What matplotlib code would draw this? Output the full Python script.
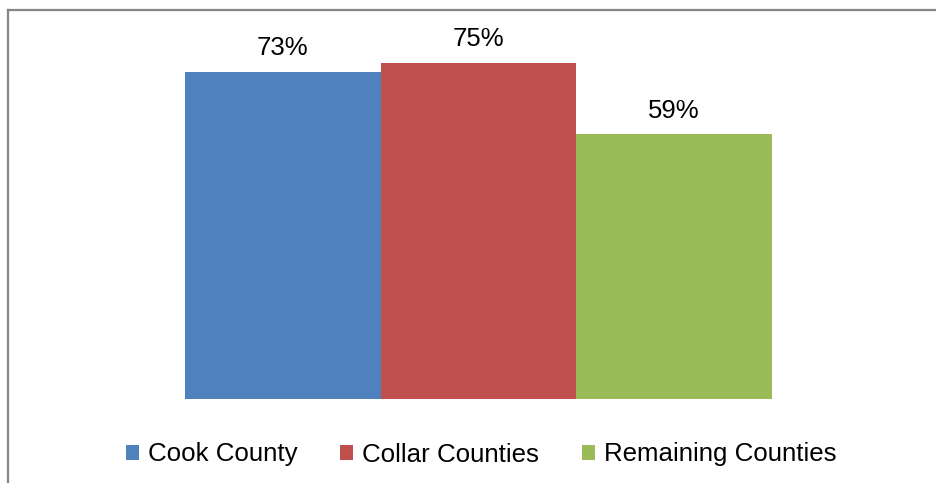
import matplotlib
matplotlib.use("Agg")
import matplotlib.pyplot as plt
from matplotlib.lines import Line2D
from matplotlib.patches import Patch

categories = ["Cook County", "Collar Counties", "Remaining Counties"]
values = [73, 75, 59]
labels = ["73%", "75%", "59%"]
colors = ["#4F81BD", "#C0504D", "#9BBB59"]

plt.rcParams['font.family'] = ['Liberation Sans', 'DejaVu Sans']

W, H = 937, 483
fig = plt.figure(figsize=(W / 100, H / 100), dpi=100)

# axes placement in pixels
left, right, bottom, top = 185, 772, 398.8, 398.8 - 80 * 4.48
ax = fig.add_axes([left / W, 1 - bottom / H, (right - left) / W, (bottom - top) / H])
x = list(range(len(categories)))
bars = ax.bar(x, values, width=1.0, color=colors, label=categories)
ax.set_xlim(-0.5, 2.5)
ax.set_ylim(0, 80)
ax.axis('off')
for b, lab in zip(bars, labels):
    ax.annotate(lab, (b.get_x() + b.get_width() / 2, b.get_height()),
                xytext=(0, 8.5), textcoords='offset points',
                ha='center', va='bottom', fontsize=18.5, color='black')

# outer border (left and top visible)
bx, by = 8.5, 9.5
fig.add_artist(Line2D([bx / W, bx / W], [0, 1 - by / H], transform=fig.transFigure,
                      color='#868686', lw=1.6))
fig.add_artist(Line2D([bx / W, 1], [1 - by / H, 1 - by / H], transform=fig.transFigure,
                      color='#868686', lw=1.6))

handles = [Patch(facecolor=c, edgecolor='none') for c in colors]
leg = fig.legend(handles, categories, loc='center', bbox_to_anchor=(481 / W, 1 - 454.5 / H),
                 ncol=3, frameon=False, fontsize=18.6, handlelength=0.5, handleheight=0.55,
                 handletextpad=0.35, columnspacing=1.65, borderpad=0, borderaxespad=0)

fig.savefig("out.png", dpi=100)
